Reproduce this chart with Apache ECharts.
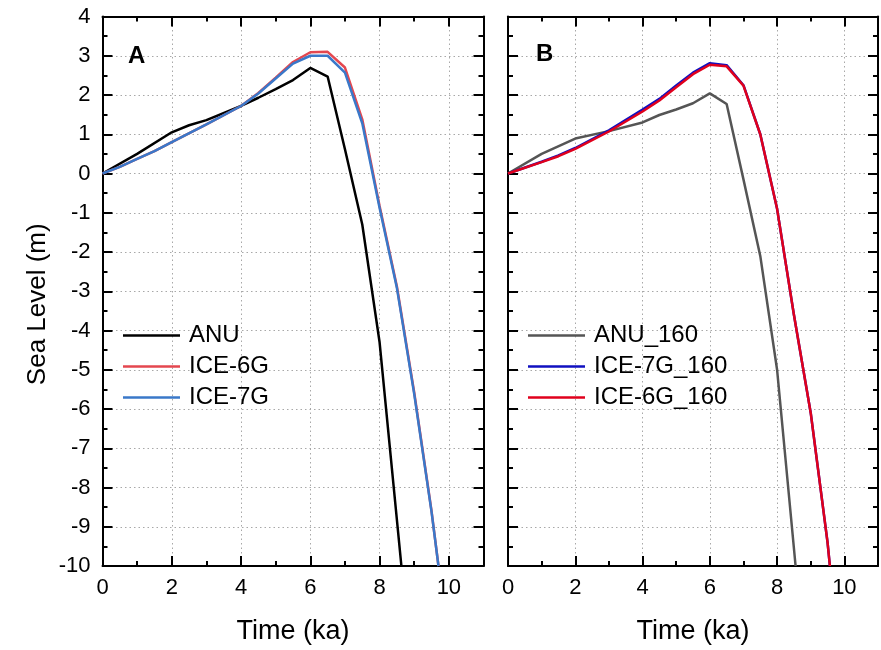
<!DOCTYPE html>
<html lang="en">
<head>
    <meta charset="UTF-8">
    <title>Sea Level</title>
    <script src="https://cdn.jsdelivr.net/npm/echarts@6/dist/echarts.min.js"></script>
</head>
<body style="margin:0;background:#fff">
<div id="main" style="width:881px;height:650px"></div>
<script>
    // panel A
    var timeANU = [0, 1, 2, 2.5, 3, 4, 4.5, 5, 5.5, 6, 6.5, 7, 7.5, 8, 8.63];
    var seaANU = [0, 0.5, 1.05, 1.23, 1.36, 1.72, 1.93, 2.15, 2.38, 2.69, 2.47, 0.62, -1.3, -4.3, -10];
    var timeICE = [0, 0.5, 1, 1.5, 2, 3, 4, 4.5, 5, 5.5, 6, 6.5, 7, 7.5, 8, 8.5, 9, 9.5, 9.7];
    var seaICE6G = [0, 0.17, 0.37, 0.57, 0.8, 1.25, 1.72, 2.05, 2.44, 2.84, 3.09, 3.1, 2.7, 1.38, -0.83, -2.88, -5.58, -8.6, -10];
    var seaICE7G = [0, 0.17, 0.37, 0.57, 0.8, 1.25, 1.72, 2.04, 2.42, 2.8, 3.0, 3.0, 2.57, 1.28, -0.88, -2.92, -5.62, -8.62, -10];

    // panel B
    var timeANU160 = [0, 1, 2, 3, 4, 4.5, 5, 5.5, 6, 6.5, 7, 7.5, 8, 8.55];
    var seaANU160 = [0, 0.5, 0.89, 1.08, 1.3, 1.49, 1.63, 1.79, 2.04, 1.77, -0.15, -2.1, -5.0, -10];
    var timeICE160 = [0, 1, 1.5, 2, 3, 4, 4.5, 5, 5.5, 6, 6.5, 7, 7.5, 8, 8.5, 9, 9.5, 9.57];
    var seaICE7G160 = [0, 0.3, 0.46, 0.65, 1.1, 1.63, 1.9, 2.24, 2.57, 2.81, 2.76, 2.25, 1.0, -0.9, -3.6, -6.1, -9.4, -10];
    var seaICE6G160 = [0, 0.29, 0.44, 0.63, 1.07, 1.58, 1.86, 2.2, 2.53, 2.77, 2.73, 2.24, 1.0, -0.9, -3.6, -6.1, -9.4, -10];

    var xTicks = [0, 2, 4, 6, 8, 10];
    var yMin = -10, yMax = 4;

    var font = "'Liberation Sans', Arial, sans-serif";

    function zip(xs, ys) {
        var out = [];
        for (var i = 0; i < xs.length; i++) out.push([xs[i], ys[i]]);
        return out;
    }

    var boxLine = {onZero: false, lineStyle: {color: '#000', width: 2}};
    var gridDots = {show: true, lineStyle: {type: [1.5, 3], color: '#a8a8a8', width: 1}};

    function xAxesFor(gi) {
        var major = {
            gridIndex: gi, type: 'value', min: 0, max: 11, interval: 2,
            axisLine: boxLine,
            axisTick: {inside: true, length: 10, lineStyle: {color: '#000', width: 2}},
            splitLine: {show: false}
        };
        var minor = {
            gridIndex: gi, type: 'value', min: 0, max: 11, interval: 1,
            axisLine: {show: false, onZero: false},
            axisTick: {inside: true, length: 5, lineStyle: {color: '#000', width: 2}},
            axisLabel: {show: false},
            splitLine: {show: false}
        };
        var bottom = Object.assign({}, major, {
            position: 'bottom',
            name: 'Time (ka)', nameLocation: 'middle', nameGap: 52,
            nameTextStyle: {fontSize: 27, color: '#000', fontFamily: font},
            axisLabel: {
                fontSize: 22, margin: 11, color: '#000', fontFamily: font,
                formatter: function (v) { return xTicks.indexOf(v) >= 0 ? String(v) : ''; }
            },
            splitLine: gridDots
        });
        var top = Object.assign({}, major, {position: 'top', axisLabel: {show: false}});
        return [
            bottom,
            Object.assign({}, minor, {position: 'bottom'}),
            top,
            Object.assign({}, minor, {position: 'top'})
        ];
    }

    function yAxesFor(gi, withLabels) {
        var ticks = {inside: true, length: 10, lineStyle: {color: '#000', width: 2}};
        var minorT = {show: true, splitNumber: 2, length: 5, lineStyle: {color: '#000', width: 2}};
        var left = {
            gridIndex: gi, type: 'value', position: 'left', min: yMin, max: yMax, interval: 1,
            axisLine: boxLine, axisTick: ticks, minorTick: minorT,
            axisLabel: {show: withLabels, fontSize: 22, margin: 12, color: '#000', fontFamily: font},
            splitLine: gridDots
        };
        if (withLabels) {
            left.name = 'Sea Level (m)';
            left.nameLocation = 'middle';
            left.nameGap = 52;
            left.nameTextStyle = {fontSize: 26, color: '#000', fontFamily: font, padding: [0, 26, 0, 0]};
        }
        var right = {
            gridIndex: gi, type: 'value', position: 'right', min: yMin, max: yMax, interval: 1,
            axisLine: boxLine, axisTick: ticks, minorTick: minorT,
            axisLabel: {show: false}, splitLine: {show: false}
        };
        return [left, right];
    }

    function line(name, data, xi, yi, color) {
        return {
            name: name, type: 'line', xAxisIndex: xi, yAxisIndex: yi,
            data: data, symbol: 'none', clip: true,
            lineStyle: {color: color, width: 2.5},
            itemStyle: {color: color}
        };
    }

    var legendText = {fontSize: 24, lineHeight: 31, color: '#000', fontFamily: font, padding: [0, 0, 0, 4]};

    var myChart = echarts.init(document.getElementById('main'));
    myChart.setOption({
        animation: false,
        backgroundColor: '#fff',
        title: [
            {text: 'A', left: 128, top: 44, padding: 0,
                textStyle: {fontSize: 24, fontWeight: 'bold', color: '#000', fontFamily: font}},
            {text: 'B', left: 536, top: 42, padding: 0,
                textStyle: {fontSize: 24, fontWeight: 'bold', color: '#000', fontFamily: font}}
        ],
        legend: [
            {orient: 'vertical', left: 123, top: 320, padding: 0, icon: 'rect', itemWidth: 57, itemHeight: 2.5, itemGap: 0,
                textStyle: legendText, data: ['ANU', 'ICE-6G', 'ICE-7G']},
            {orient: 'vertical', left: 528, top: 320, padding: 0, icon: 'rect', itemWidth: 57, itemHeight: 2.5, itemGap: 0,
                textStyle: legendText, data: ['ANU_160', 'ICE-7G_160', 'ICE-6G_160']}
        ],
        grid: [
            {left: 102.5, top: 16.5, width: 381, height: 550},
            {left: 508, top: 16.5, width: 380, height: 550}
        ],
        xAxis: xAxesFor(0).concat(xAxesFor(1)),
        yAxis: yAxesFor(0, true).concat(yAxesFor(1, false)),
        series: [
            line('ANU', zip(timeANU, seaANU), 0, 0, '#000000'),
            line('ICE-6G', zip(timeICE, seaICE6G), 0, 0, '#e4474f'),
            line('ICE-7G', zip(timeICE, seaICE7G), 0, 0, '#3a78c9'),
            line('ANU_160', zip(timeANU160, seaANU160), 4, 2, '#555555'),
            line('ICE-7G_160', zip(timeICE160, seaICE7G160), 4, 2, '#1010c0'),
            line('ICE-6G_160', zip(timeICE160, seaICE6G160), 4, 2, '#e0001c')
        ]
    });
</script>
</body>
</html>
